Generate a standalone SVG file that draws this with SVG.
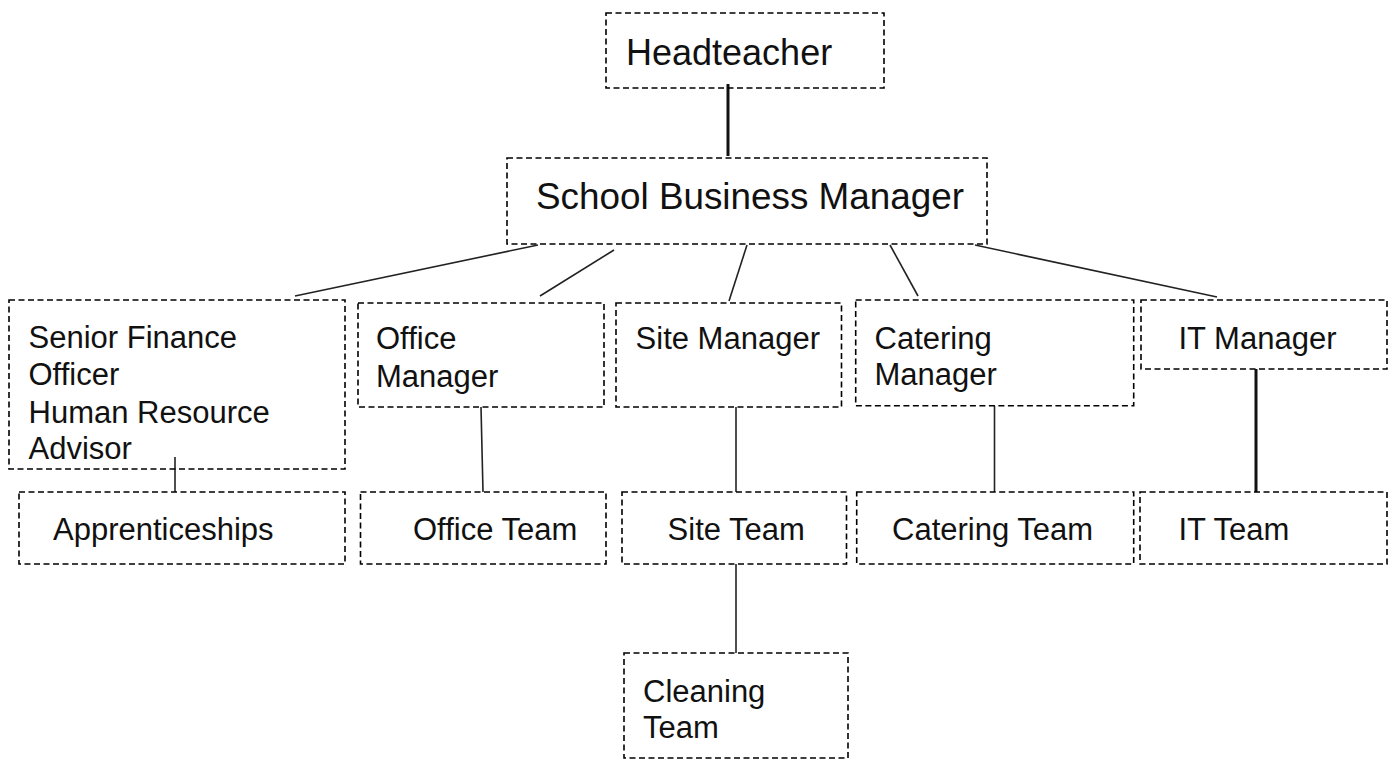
<svg xmlns="http://www.w3.org/2000/svg" width="1397" height="760" viewBox="0 0 1397 760">
<style>
.box{fill:none;stroke:#000;stroke-width:1.6;stroke-dasharray:6 3.5}
.t{font-family:"Liberation Sans",Arial,sans-serif;fill:#111}
.big{font-size:36px}
.sm{font-size:31px}
.thin{stroke:#222;stroke-width:1.6;fill:none}
.thick{stroke:#111;stroke-width:3;fill:none}
</style>
<rect width="1397" height="760" fill="#fff"/>
<g id="connectors">
<line class="thick" x1="728" y1="84" x2="728" y2="156"/>
<line class="thin" x1="538" y1="245" x2="295" y2="296"/>
<line class="thin" x1="614" y1="250" x2="540" y2="296"/>
<line class="thin" x1="747" y1="245" x2="729" y2="301"/>
<line class="thin" x1="890" y1="245" x2="918" y2="296"/>
<line class="thin" x1="975" y1="245" x2="1217" y2="297"/>
<line class="thin" x1="175" y1="457" x2="175" y2="492"/>
<line class="thin" x1="481" y1="407" x2="483" y2="492"/>
<line class="thin" x1="736" y1="407" x2="736" y2="492"/>
<line class="thin" x1="994.5" y1="406" x2="994.5" y2="492"/>
<line class="thick" x1="1256" y1="369" x2="1256" y2="492"/>
<line class="thin" x1="736" y1="564" x2="736" y2="653"/>
</g>
<g id="headteacher">
<rect class="box" x="606" y="13" width="278" height="75"/>
<text class="t big" x="626" y="65">Headteacher</text>
</g>
<g id="sbm">
<rect class="box" x="507" y="158" width="480" height="86"/>
<text class="t big" x="536" y="209" textLength="428" lengthAdjust="spacingAndGlyphs">School Business Manager</text>
</g>
<g id="sfo">
<rect class="box" x="9" y="300" width="336" height="169"/>
<text class="t sm" x="28.5" y="348">Senior Finance</text>
<text class="t sm" x="28.5" y="385">Officer</text>
<text class="t sm" x="28.5" y="423">Human Resource</text>
<text class="t sm" x="28.5" y="459">Advisor</text>
</g>
<g id="office-manager">
<rect class="box" x="358" y="303" width="246" height="104"/>
<text class="t sm" x="376" y="349">Office</text>
<text class="t sm" x="376" y="387">Manager</text>
</g>
<g id="site-manager">
<rect class="box" x="616" y="303" width="225.5" height="104"/>
<text class="t sm" x="635.6" y="349">Site Manager</text>
</g>
<g id="catering-manager">
<rect class="box" x="855.7" y="300" width="278" height="105.7"/>
<text class="t sm" x="874.5" y="349">Catering</text>
<text class="t sm" x="874.5" y="385">Manager</text>
</g>
<g id="it-manager">
<rect class="box" x="1141" y="300" width="246" height="69"/>
<text class="t sm" x="1178.5" y="349">IT Manager</text>
</g>
<g id="apprenticeships">
<rect class="box" x="19" y="492" width="326" height="72"/>
<text class="t sm" x="53" y="540">Apprenticeships</text>
</g>
<g id="office-team">
<rect class="box" x="360.5" y="492" width="245.5" height="72"/>
<text class="t sm" x="413" y="540">Office Team</text>
</g>
<g id="site-team">
<rect class="box" x="622" y="492" width="224.5" height="72"/>
<text class="t sm" x="667.6" y="540">Site Team</text>
</g>
<g id="catering-team">
<rect class="box" x="856.7" y="492" width="277" height="72"/>
<text class="t sm" x="892" y="540">Catering Team</text>
</g>
<g id="it-team">
<rect class="box" x="1140" y="492" width="247" height="72"/>
<text class="t sm" x="1178.5" y="540">IT Team</text>
</g>
<g id="cleaning-team">
<rect class="box" x="624" y="653" width="224" height="105"/>
<text class="t sm" x="643" y="702">Cleaning</text>
<text class="t sm" x="643" y="738">Team</text>
</g>
</svg>
